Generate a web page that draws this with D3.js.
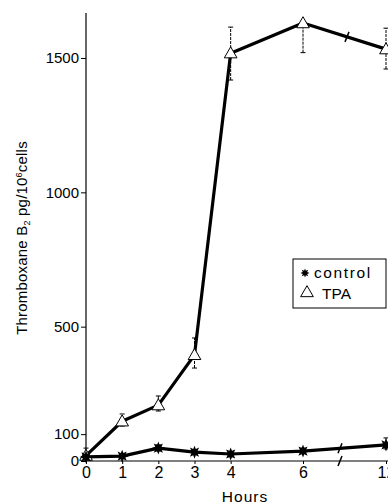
<!DOCTYPE html>
<html>
<head>
<meta charset="utf-8">
<script src="https://cdn.jsdelivr.net/npm/d3@7"></script>
<style>
  body { margin: 0; background: #fff; }
  svg { display: block; font-family: "Liberation Sans", Arial, sans-serif; }
</style>
</head>
<body>
<svg width="388" height="504"></svg>
<script>
// hours and values
var hours = [0, 1, 2, 3, 4, 6, 12];
var tpa = [20, 148, 208, 395, 1518, 1630, 1533];
var tpaLo = [20, 130, 186, 346, 1418, 1520, 1459];
var tpaHi = [48, 175, 242, 458, 1615, 1630, 1611];
var control = [15, 18, 48, 33, 26, 37, 60];
var controlLo = [10, 10, 38, 24, 18, 28, 45];
var controlHi = [22, 26, 60, 42, 34, 48, 86];
var yTicks = [0, 100, 500, 1000, 1500];
var xTicks = [0, 1, 2, 3, 4, 6, 12];

var svg = d3.select("svg");

// axis is broken between 6 and 12 hours
var x = d3.scaleLinear().domain([0, 6, 12]).range([86, 303, 386]);
var y = d3.scaleLinear().domain([0, 1500]).range([461, 58]);

// y axis
var yAxis = svg.append("g")
    .attr("transform", "translate(86,0)")
    .call(d3.axisLeft(y).tickValues(yTicks).tickFormat(d3.format("d"))
      .tickSize(5).tickPadding(2).tickSizeOuter(0));
yAxis.select(".domain").remove();
yAxis.append("line")
    .attr("x1", 0).attr("x2", 0)
    .attr("y1", 13).attr("y2", y(0))
    .attr("stroke", "#000").attr("stroke-width", 1.2);
yAxis.selectAll("text")
    .attr("fill", "#000")
    .style("font-size", "15px");

// x axis
var xAxis = svg.append("g")
    .attr("transform", "translate(0," + y(0) + ")")
    .call(d3.axisBottom(x).tickValues(xTicks).tickFormat(d3.format("d"))
      .tickSize(3).tickPadding(3));
xAxis.select(".domain").remove();
xAxis.append("line")
    .attr("x1", x(0)).attr("x2", 388)
    .attr("y1", 0).attr("y2", 0)
    .attr("stroke", "#000").attr("stroke-width", 1.2);
xAxis.selectAll("text")
    .attr("fill", "#000")
    .style("font-size", "16px");

// break marks
var breakX = 340;
svg.append("line")
    .attr("x1", breakX - 2).attr("y1", y(0) + 5)
    .attr("x2", breakX + 2).attr("y2", y(0) - 5)
    .attr("stroke", "#000").attr("stroke-width", 1.5);

// axis titles
svg.append("text")
    .attr("x", 245).attr("y", 502)
    .attr("text-anchor", "middle")
    .style("font-size", "15.5px")
    .style("letter-spacing", "1px")
    .text("Hours");

var ylab = svg.append("text")
    .attr("transform", "translate(27,238) rotate(-90)")
    .attr("text-anchor", "middle")
    .style("font-size", "15px")
    .style("letter-spacing", "0.2px");
ylab.append("tspan").text("Thromboxane B");
ylab.append("tspan").attr("dy", 3).style("font-size", "9px").text("2");
ylab.append("tspan").attr("dy", -3).text(" pg/10");
ylab.append("tspan").attr("dy", -5).style("font-size", "9px").text("6");
ylab.append("tspan").attr("dy", 5).text("cells");

var line = d3.line()
    .x(function(d) { return x(d[0]); })
    .y(function(d) { return y(d[1]); });

function drawSeries(vals, lo, hi) {
  var pts = hours.map(function(h, i) { return [h, vals[i]]; });
  svg.append("path")
      .datum(pts)
      .attr("d", line)
      .attr("fill", "none")
      .attr("stroke", "#000")
      .attr("stroke-width", 3.2)
      .attr("stroke-linejoin", "round");

  var err = svg.append("g");
  hours.forEach(function(h, i) {
    var cx = x(h);
    err.append("line")
        .attr("x1", cx).attr("x2", cx)
        .attr("y1", y(lo[i])).attr("y2", y(hi[i]))
        .attr("stroke", "#000").attr("stroke-width", 1)
        .attr("stroke-dasharray", "3,1");
    [lo[i], hi[i]].forEach(function(v) {
      err.append("line")
          .attr("x1", cx - 2.5).attr("x2", cx + 2.5)
          .attr("y1", y(v)).attr("y2", y(v))
          .attr("stroke", "#000").attr("stroke-width", 1);
    });
  });
  return pts;
}

var tpaPts = drawSeries(tpa, tpaLo, tpaHi);
var ctlPts = drawSeries(control, controlLo, controlHi);

// break slashes across the lines between 6 and 12
function slash(px, py) {
  svg.append("line")
      .attr("x1", px - 2).attr("y1", py + 5)
      .attr("x2", px + 2).attr("y2", py - 5)
      .attr("stroke", "#000").attr("stroke-width", 1.5);
}
function lineYAt(vals, px) {
  var t = (px - x(6)) / (x(12) - x(6));
  return y(vals[5] + t * (vals[6] - vals[5]));
}
slash(347, lineYAt(tpa, 347));
slash(breakX, lineYAt(control, breakX));

// markers
var tri = d3.symbol().type(d3.symbolTriangle).size(70);
var star = d3.lineRadial().curve(d3.curveLinearClosed)
    .angle(function(d, i) { return i * Math.PI / 8; })
    .radius(function(d, i) { return i % 2 ? 3.4 : 6.5; });
var starPath = star(d3.range(16));

svg.append("g").selectAll("path")
    .data(tpaPts)
    .enter().append("path")
      .attr("d", tri)
      .attr("transform", function(d) { return "translate(" + x(d[0]) + "," + (y(d[1]) + 1) + ")"; })
      .attr("fill", "#fff")
      .attr("stroke", "#000")
      .attr("stroke-width", 1);

svg.append("g").selectAll("path")
    .data(ctlPts)
    .enter().append("path")
      .attr("d", starPath)
      .attr("transform", function(d) { return "translate(" + x(d[0]) + "," + y(d[1]) + ")"; })
      .attr("fill", "#000");

// legend
var leg = svg.append("g").attr("transform", "translate(293,259)");
leg.append("rect")
    .attr("width", 93).attr("height", 49)
    .attr("fill", "#fff")
    .attr("stroke", "#000").attr("stroke-width", 1);
leg.append("path")
    .attr("d", starPath)
    .attr("transform", "translate(12,14) scale(0.7)")
    .attr("fill", "#000");
leg.append("text").attr("x", 21).attr("y", 19)
    .style("font-size", "15.5px").style("letter-spacing", "1.6px").text("control");
leg.append("path")
    .attr("d", tri)
    .attr("transform", "translate(14,34)")
    .attr("fill", "#fff").attr("stroke", "#000");
leg.append("text").attr("x", 29).attr("y", 40)
    .style("font-size", "15.5px").text("TPA");
</script>
</body>
</html>
